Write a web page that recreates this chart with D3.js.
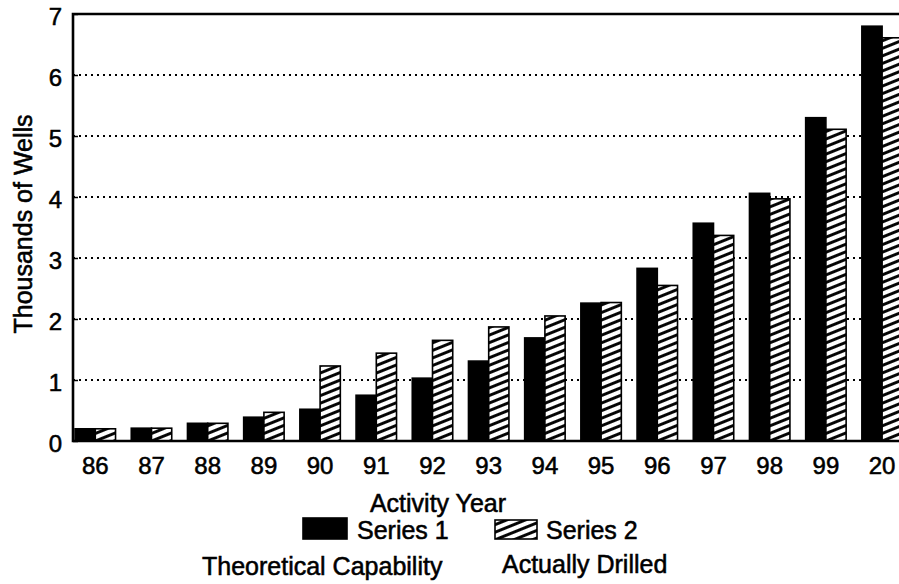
<!DOCTYPE html>
<html>
<head>
<meta charset="utf-8">
<script src="https://cdn.jsdelivr.net/npm/d3@7"></script>
<style>
    body { margin: 0; background: #fff; }
    svg text { font-family: "Liberation Sans", Arial, Helvetica, sans-serif; fill: #000; stroke: #000; stroke-width: 0.55px; }
</style>
</head>
<body>
<svg id="chart" width="899" height="584"></svg>
<script>
const years = ["86", "87", "88", "89", "90", "91", "92", "93", "94", "95", "96", "97", "98", "99", "20"]
const theoretical = [0.2, 0.21, 0.29, 0.39, 0.52, 0.75, 1.03, 1.31, 1.69, 2.26, 2.83, 3.57, 4.06, 5.3, 6.8]
const drilled = [0.2, 0.21, 0.29, 0.47, 1.23, 1.44, 1.65, 1.87, 2.05, 2.27, 2.55, 3.37, 3.97, 5.11, 6.61]
const seriesNames = ["Series 1", "Series 2"]
const seriesNotes = ["Theoretical Capability", "Actually Drilled"]
const yTicks = [0, 1, 2, 3, 4, 5, 6, 7]

const svg = d3.select("#chart")
const plotLeft = 73, plotTop = 14, plotBottom = 441
const step = 56.2

/* hatch used by the second series */
svg.append("defs").append("pattern")
    .attr("id", "hatch")
    .attr("patternUnits", "userSpaceOnUse")
    .attr("width", 12)
    .attr("height", 7)
    .attr("patternTransform", "rotate(-22)")
    .call(p => p.append("rect").attr("width", 12).attr("height", 7).attr("fill", "#fff"))
    .append("line")
    .attr("x1", 0).attr("x2", 12)
    .attr("y1", 3.5).attr("y2", 3.5)
    .attr("stroke", "#000")
    .attr("stroke-width", 2.9)

const y = d3.scaleLinear().domain([0, 7]).range([plotBottom, plotTop])
const x = d3.scaleBand().domain(years)
    .range([67.2, 67.2 + years.length * step])
    .paddingInner(0.28)
    .paddingOuter(0.14)
const x1 = d3.scaleBand().domain([0, 1]).range([0, x.bandwidth()])

/* dotted grid lines */
svg.append("g")
    .selectAll("line")
    .data(yTicks.filter(t => t > 0 && t < 7))
    .join("line")
    .attr("x1", plotLeft).attr("x2", 899)
    .attr("y1", d => y(d)).attr("y2", d => y(d))
    .attr("stroke", "#000")
    .attr("stroke-width", 2)
    .attr("stroke-dasharray", "2,4")

/* bars */
const rows = years.map((yr, i) => ({ year: yr, values: [theoretical[i], drilled[i]] }))
svg.append("g")
    .selectAll("g")
    .data(rows)
    .join("g")
    .attr("transform", d => `translate(${x(d.year)},0)`)
    .selectAll("rect")
    .data(d => d.values.map((v, k) => ({ k, v })))
    .join("rect")
    .attr("x", d => x1(d.k))
    .attr("width", x1.bandwidth())
    .attr("y", d => y(d.v))
    .attr("height", d => y(0) - y(d.v))
    .attr("fill", d => d.k === 0 ? "#000" : "url(#hatch)")
    .attr("stroke", "#000")
    .attr("stroke-width", 1.6)

/* y axis */
const yAxis = svg.append("g")
    .attr("transform", `translate(${plotLeft},0)`)
    .call(d3.axisLeft(y).tickValues(yTicks).tickSize(-5).tickPadding(11).tickFormat(d3.format("d")))
yAxis.select(".domain").remove()
yAxis.selectAll(".tick line").attr("stroke-width", 1.5)
yAxis.selectAll(".tick text").attr("font-size", 24).attr("dy", "0.42em")

/* x axis */
const xAxis = svg.append("g")
    .attr("transform", `translate(0,${plotBottom})`)
    .call(d3.axisBottom(x).tickSize(0).tickPadding(16))
xAxis.select(".domain").remove()
xAxis.selectAll(".tick text").attr("font-size", 24)

/* frame */
svg.append("path")
    .attr("d", `M899,${plotTop}H${plotLeft}V${plotBottom}H899`)
    .attr("fill", "none")
    .attr("stroke", "#000")
    .attr("stroke-width", 2.6)

svg.append("text")
    .attr("transform", "translate(32,224) rotate(-90)")
    .attr("text-anchor", "middle")
    .attr("font-size", 25)
    .text("Thousands of Wells")

svg.append("text")
    .attr("x", 438).attr("y", 512)
    .attr("text-anchor", "middle")
    .attr("font-size", 25)
    .text("Activity Year")

/* legend */
const legendX = [303, 495]
const legend = svg.append("g")
    .selectAll("g")
    .data(seriesNames)
    .join("g")
    .attr("transform", (d, i) => `translate(${legendX[i]},0)`)
legend.append("rect")
    .attr("y", (d, i) => i === 0 ? 518 : 520)
    .attr("width", (d, i) => i === 0 ? 44 : 42)
    .attr("height", (d, i) => i === 0 ? 21 : 19)
    .attr("fill", (d, i) => i === 0 ? "#000" : "url(#hatch)")
    .attr("stroke", "#000")
    .attr("stroke-width", 1.6)
legend.append("text")
    .attr("x", (d, i) => i === 0 ? 54 : 51)
    .attr("y", 539)
    .attr("font-size", 25)
    .text(d => d)

svg.append("g")
    .selectAll("text")
    .data(seriesNotes)
    .join("text")
    .attr("x", (d, i) => [202, 502][i])
    .attr("y", (d, i) => [575, 573][i])
    .attr("font-size", 25)
    .text(d => d)
</script>
</body>
</html>
